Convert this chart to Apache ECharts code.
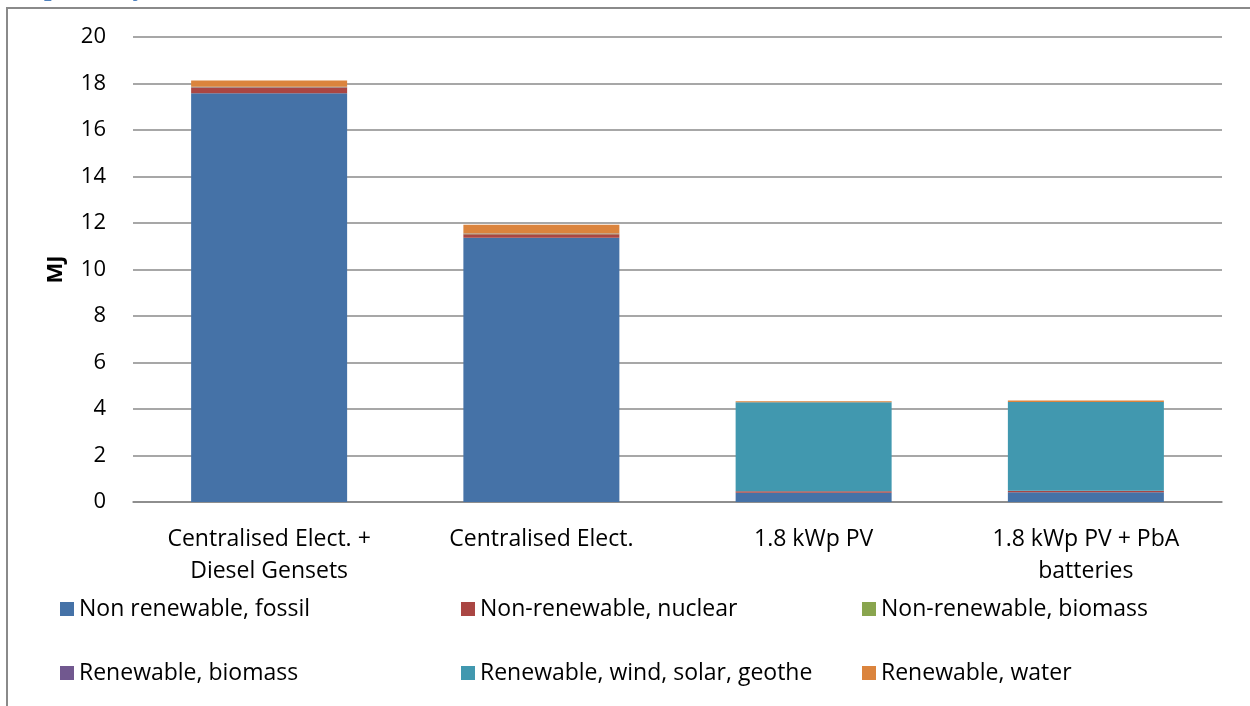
<!DOCTYPE html>
<html>
<head>
<meta charset="utf-8">
<script src="https://cdn.jsdelivr.net/npm/echarts@6/dist/echarts.min.js"></script>
<style>
  html, body { margin: 0; padding: 0; background: #fff; }
  #chart { width: 1250px; height: 706px; }
</style>
</head>
<body>
<div id="chart"></div>
<script>
// Primary energy demand per scenario, MJ, split by energy source
const categories = ['Centralised Elect. +\nDiesel Gensets', 'Centralised Elect.', '1.8 kWp PV', '1.8 kWp PV + PbA\nbatteries'];
const fossil      = [17.58, 11.37, 0.40, 0.42];
const nuclear     = [0.25, 0.15, 0.06, 0.05];
const nrBiomass   = [0.01, 0.01, 0.00, 0.00];
const rBiomass    = [0.01, 0.01, 0.00, 0.01];
const windSolar   = [0.01, 0.01, 3.83, 3.82];
const water       = [0.27, 0.37, 0.04, 0.07];
const yTicks      = [0, 2, 4, 6, 8, 10, 12, 14, 16, 18, 20];

const seriesDefs = [
  { name: 'Non renewable, fossil', data: fossil, color: '#4572A7' },
  { name: 'Non-renewable, nuclear', data: nuclear, color: '#AA4643' },
  { name: 'Non-renewable, biomass', data: nrBiomass, color: '#89A54E' },
  { name: 'Renewable, biomass', data: rBiomass, color: '#71588F' },
  { name: 'Renewable, wind, solar, geothe', data: windSolar, color: '#4198AF' },
  { name: 'Renewable, water', data: water, color: '#DB843D' }
];

const FONT = '"Open Sans", Lato, sans-serif';
const FS = 23;
const chart = echarts.init(document.getElementById('chart'), null, { renderer: 'canvas' });

const legendBase = {
  orient: 'vertical',
  top: 590,
  itemWidth: 14,
  itemHeight: 14,
  itemGap: 36,
  icon: 'rect',
  selectedMode: false,
  textStyle: { fontFamily: FONT, fontSize: FS, color: '#000', lineHeight: 28 }
};

chart.setOption({
  animation: false,
  backgroundColor: '#fff',
  grid: { left: 133, right: 28, top: 37, bottom: 204 },
  legend: [
    Object.assign({}, legendBase, { left: 55, data: [seriesDefs[0].name, seriesDefs[3].name] }),
    Object.assign({}, legendBase, { left: 456, data: [seriesDefs[1].name, seriesDefs[4].name] }),
    Object.assign({}, legendBase, { left: 857, data: [seriesDefs[2].name, seriesDefs[5].name] })
  ],
  xAxis: {
    type: 'category',
    data: categories,
    axisTick: { show: false },
    axisLine: { lineStyle: { color: '#868686', width: 1.5 } },
    axisLabel: {
      fontFamily: FONT, fontSize: FS, color: '#000', margin: 21,
      lineHeight: 32, interval: 0
    }
  },
  yAxis: {
    type: 'value',
    min: yTicks[0],
    max: yTicks[yTicks.length - 1],
    interval: 2,
    name: 'MJ',
    nameLocation: 'middle',
    nameGap: 66,
    nameRotate: 90,
    nameTextStyle: { fontFamily: FONT, fontSize: 22, fontWeight: 'bold', color: '#000' },
    axisLine: { show: false },
    axisTick: { show: false },
    axisLabel: { fontFamily: FONT, fontSize: 22, color: '#000', margin: 27 },
    splitLine: { lineStyle: { color: '#8a8a8a', width: 1.5 } }
  },
  series: seriesDefs.map(s => ({
    name: s.name,
    type: 'bar',
    stack: 'total',
    data: s.data,
    barWidth: 156,
    itemStyle: { color: s.color },
    emphasis: { disabled: true }
  })),
  graphic: [
    {
      type: 'rect',
      shape: { x: 7, y: 8, width: 1400, height: 900 },
      style: { fill: 'none', stroke: '#8a8a8a', lineWidth: 2 },
      silent: true
    },
    {
      type: 'text',
      left: 10,
      top: -25,
      style: {
        text: 'respectively',
        font: 'bold 27px "Liberation Serif", serif',
        fill: '#4F81BD'
      },
      silent: true
    }
  ]
});
</script>
</body>
</html>
